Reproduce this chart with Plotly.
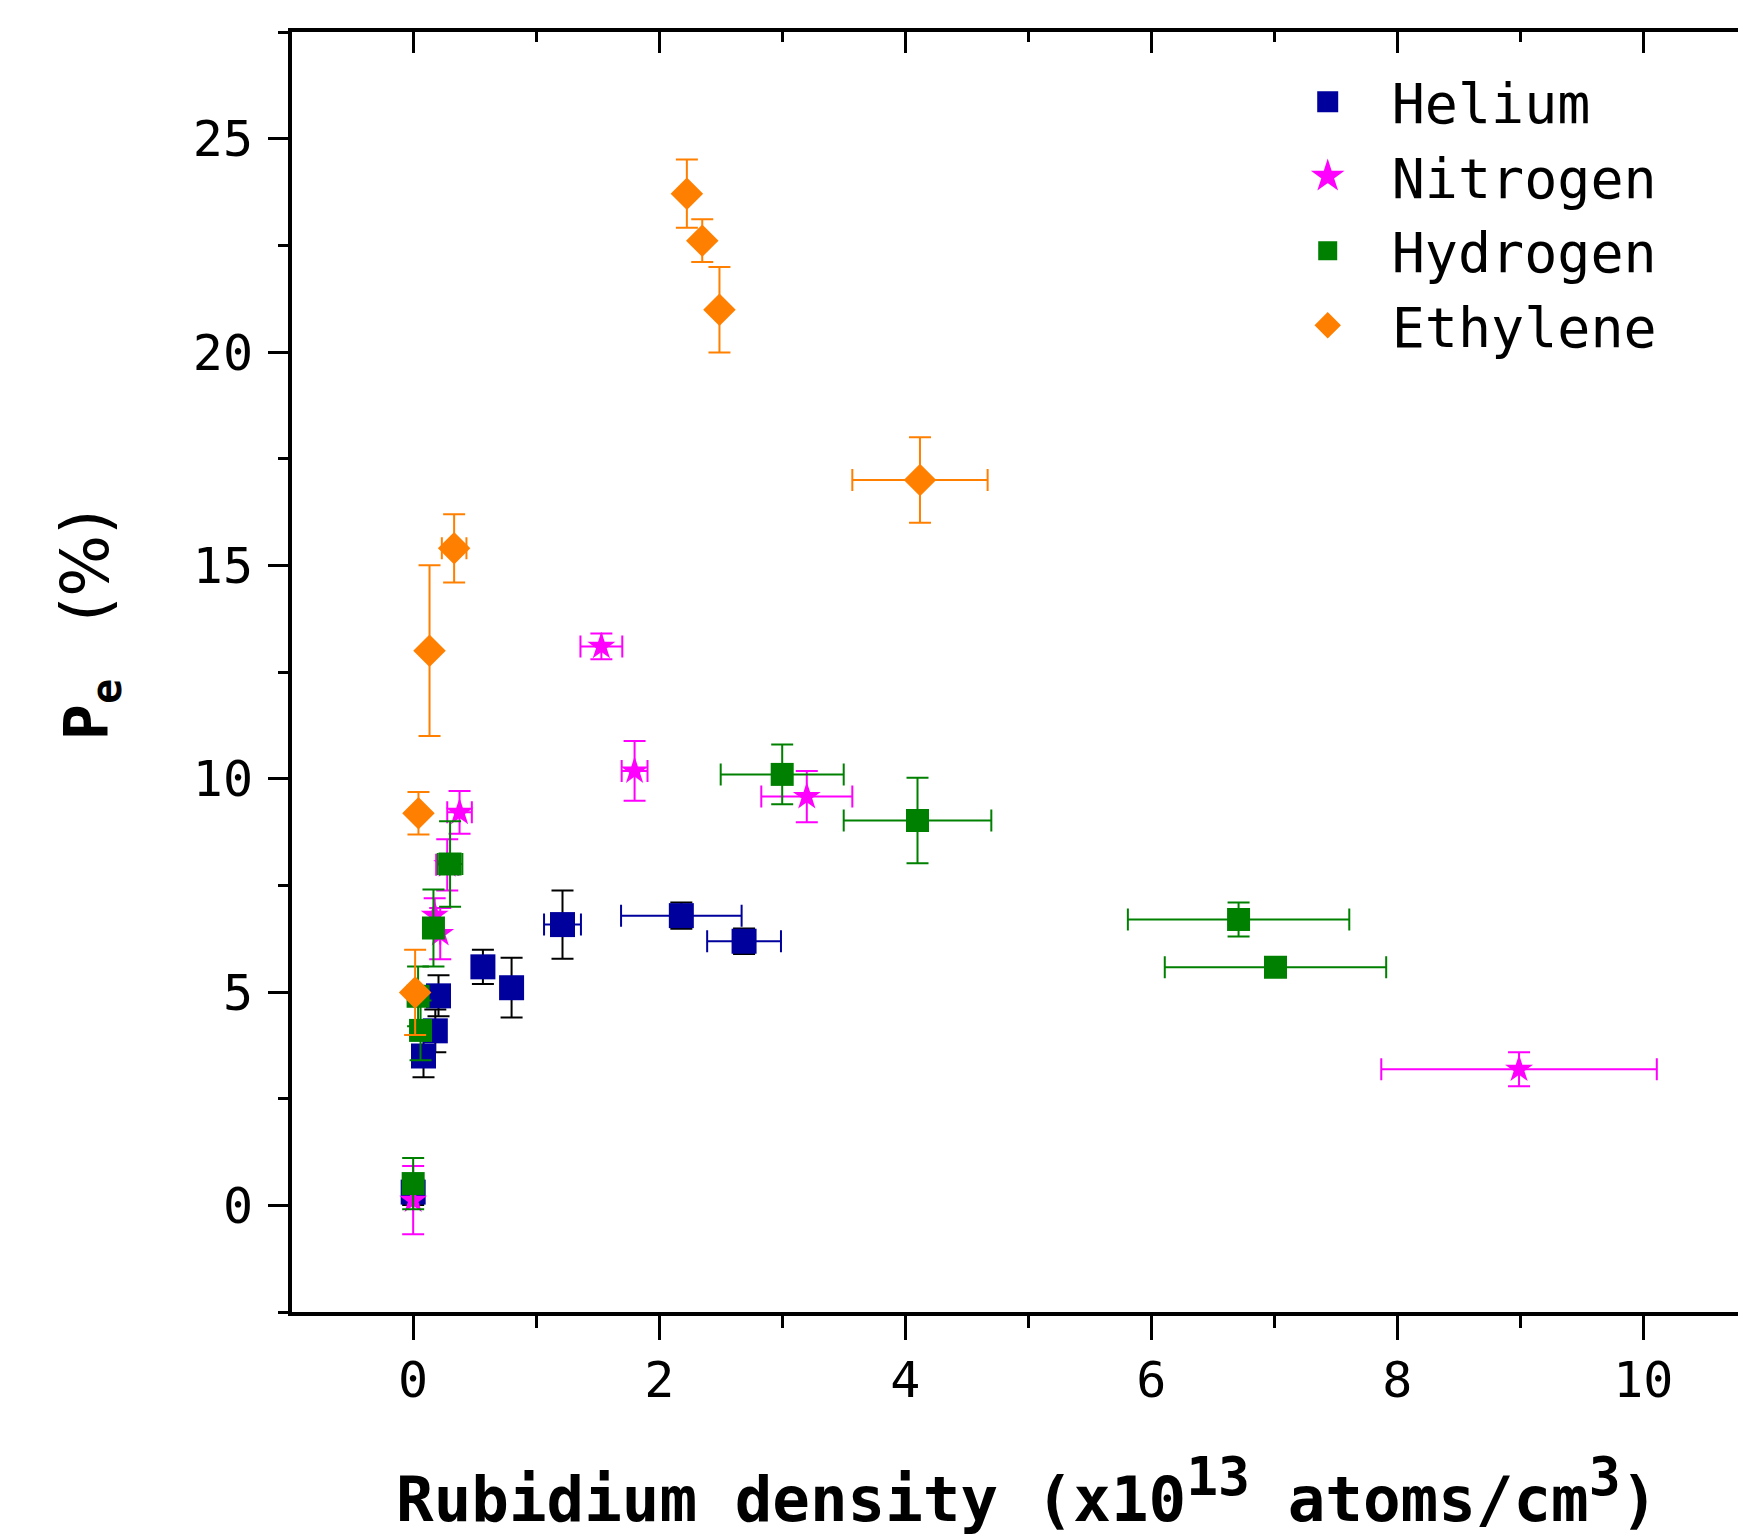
import plotly.graph_objects as go

# ---------------- data ----------------
he_x  = [0.00, 0.084, 0.18, 0.206, 0.567, 0.80, 1.214, 2.18, 2.69]
he_y  = [0.31, 3.50, 4.09, 4.91, 5.59, 5.10, 6.58, 6.79, 6.19]
he_ex = [0.0, 0.0, 0.0, 0.0, 0.0, 0.0, 0.15, 0.49, 0.30]
he_ey = [0.3, 0.5, 0.5, 0.48, 0.4, 0.7, 0.8, 0.31, 0.3]

n2_x  = [0.00, 0.175, 0.22, 0.277, 0.377, 1.53, 1.80, 3.20, 8.99]
n2_y  = [0.12, 6.80, 6.37, 7.98, 9.21, 13.10, 10.18, 9.58, 3.19]
n2_ex = [0.0, 0.0, 0.0, 0.09, 0.10, 0.17, 0.105, 0.37, 1.12]
n2_ey = [0.8, 0.4, 0.6, 0.6, 0.5, 0.3, 0.7, 0.6, 0.4]

h2_x  = [0.00, 0.04, 0.06, 0.165, 0.30, 3.00, 4.10, 6.71, 7.01]
h2_y  = [0.51, 4.90, 4.10, 6.50, 8.00, 10.10, 9.02, 6.70, 5.58]
h2_ex = [0.0, 0.0, 0.0, 0.0, 0.10, 0.50, 0.60, 0.90, 0.90]
h2_ey = [0.6, 0.7, 0.7, 0.9, 1.0, 0.7, 1.0, 0.4, 0.2]

et_x  = [0.016, 0.043, 0.133, 0.333, 2.225, 2.35, 2.49, 4.12]
et_y  = [4.99, 9.19, 13.00, 15.40, 23.71, 22.61, 20.99, 17.00]
et_ex = [0.0, 0.0, 0.0, 0.10, 0.0, 0.0, 0.0, 0.55]
et_ey = [1.0, 0.5, 2.0, 0.8, 0.8, 0.5, 1.0, 1.0]

names = ["Helium", "Nitrogen", "Hydrogen", "Ethylene"]
x_ticks = [0, 2, 4, 6, 8, 10]
y_ticks = [0, 5, 10, 15, 20, 25]

C_HE = "#00009C"
C_N2 = "#FF00FF"
C_H2 = "#008000"
C_ET = "#FF8000"

FONT = "DejaVu Sans Mono"

fig = go.Figure()

def add_series(x, y, ex, ey, color, ecol_y, ecol_x, symbol, size, name):
    fig.add_trace(go.Scatter(
        x=x, y=y, mode="markers", name=name, showlegend=False,
        marker=dict(symbol=symbol, size=size, color=color, line=dict(width=0)),
        error_y=dict(type="data", array=ey, visible=True, color=ecol_y,
                     thickness=2, width=11),
        error_x=dict(type="data", array=ex, visible=True, color=ecol_x,
                     thickness=2, width=11),
    ))

add_series(he_x, he_y, he_ex, he_ey, C_HE, "black", C_HE, "square", 25, names[0])
add_series(n2_x, n2_y, n2_ex, n2_ey, C_N2, C_N2, C_N2, "star", 21, names[1])
add_series(h2_x, h2_y, h2_ex, h2_ey, C_H2, C_H2, C_H2, "square", 23, names[2])
add_series(et_x, et_y, et_ex, et_ey, C_ET, C_ET, C_ET, "diamond", 25, names[3])

# legend entries
for nm, col, sym, lw in [(names[0], C_HE, "square", 5), (names[1], C_N2, "star", 4),
                         (names[2], C_H2, "square", 3), (names[3], C_ET, "diamond", 4)]:
    fig.add_trace(go.Scatter(
        x=[None], y=[None], mode="markers", name=nm, showlegend=True,
        marker=dict(symbol=sym, size=16, color=col, line=dict(width=lw, color=col)),
    ))

XR = [-0.985, 10.77]
YR = [-2.5, 27.5]

fig.update_layout(
    width=1738, height=1535, autosize=False,
    margin=dict(l=292, r=0, t=32, b=223),
    paper_bgcolor="white", plot_bgcolor="white",
    font=dict(family=FONT, color="black", size=50),
    xaxis=dict(
        range=XR, tickvals=x_ticks, ticktext=[str(v) for v in x_ticks],
        showgrid=False, zeroline=False,
        showline=True, linecolor="black", linewidth=4,
        ticks="outside", ticklen=24, tickwidth=3, tickcolor="black",
        minor=dict(dtick=1, tick0=0, ticks="outside", ticklen=12, tickwidth=3, tickcolor="black", showgrid=False),
        tickfont=dict(family=FONT, size=50, color="black"),
        ticklabelstandoff=-3,
    ),
    xaxis2=dict(
        range=XR, overlaying="x", side="top", anchor="y",
        tickvals=x_ticks, showticklabels=False,
        showgrid=False, zeroline=False,
        showline=True, linecolor="black", linewidth=4,
        ticks="inside", ticklen=21, tickwidth=3, tickcolor="black",
        minor=dict(dtick=1, tick0=0, ticks="inside", ticklen=10, tickwidth=3, tickcolor="black", showgrid=False),
    ),
    yaxis=dict(
        range=YR, tickvals=y_ticks, ticktext=[str(v) for v in y_ticks],
        showgrid=False, zeroline=False,
        showline=True, linecolor="black", linewidth=4,
        ticks="outside", ticklen=20, tickwidth=3, tickcolor="black",
        minor=dict(dtick=2.5, tick0=0, ticks="outside", ticklen=10, tickwidth=3, tickcolor="black", showgrid=False),
        tickfont=dict(family=FONT, size=50, color="black"),
        ticklabelstandoff=5,
    ),
    legend=dict(
        x=0.672, y=0.9785, xanchor="left", yanchor="top",
        bgcolor="rgba(0,0,0,0)", borderwidth=0,
        font=dict(family=FONT, size=55, color="black"),
        itemwidth=118, tracegroupgap=0,
    ),
    annotations=[
        dict(text="<b>Rubidium density (x10<sup><span style='font-size:53px'>13</span></sup>"
                  " atoms/cm<sup><span style='font-size:53px'>3</span></sup>)</b>",
             xref="paper", yref="paper", x=0.508, y=-0.140,
             xanchor="center", yanchor="middle", showarrow=False,
             font=dict(family=FONT, size=62.5, color="black")),
        dict(text="<b>P<sub>e</sub></b>&nbsp;<span style='font-family:DejaVu Sans;font-size:65px'>&nbsp;(%)</span>",
             xref="paper", yref="paper", x=-0.14, y=0.537,
             xanchor="center", yanchor="middle", showarrow=False, textangle=-90,
             font=dict(family=FONT, size=60, color="black")),
    ],
)

# dummy trace so the top axis is rendered
fig.add_trace(go.Scatter(x=[None], y=[None], xaxis="x2", yaxis="y", showlegend=False, hoverinfo="skip"))

fig.write_html("out.html")
